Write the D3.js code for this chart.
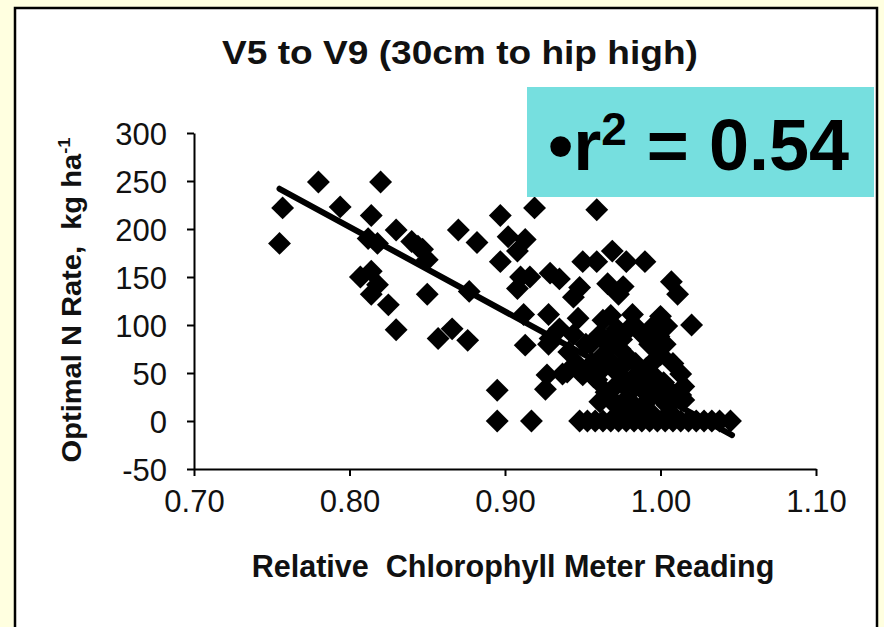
<!DOCTYPE html>
<html><head><meta charset="utf-8">
<script src="https://cdn.jsdelivr.net/npm/d3@7"></script>
<style>
html,body{margin:0;padding:0;background:#ffffe0;}
svg{display:block;}
text{font-family:"Liberation Sans",Arial,Helvetica,sans-serif;}
</style></head>
<body>
<svg id="chart" width="884" height="627"></svg>
<script>
// ---- data ----
const titleText = "V5 to V9 (30cm to hip high)";
const xLabel = "Relative  Chlorophyll Meter Reading";
const yLabelMain = "Optimal N Rate,  kg ha";
const yLabelSup = "-1";
const xTicks = [0.70, 0.80, 0.90, 1.00, 1.10];
const yTicks = [-50, 0, 50, 100, 150, 200, 250, 300];
const rsqValue = "0.54";

const rcmr = [
 0.780,0.820,0.757,0.794,0.814,0.755,0.812,0.818,0.830,0.840,0.847,0.850,0.844,0.870,0.882,0.897,0.919,0.902,0.913,0.908,0.897,
 0.807,0.814,0.818,0.814,0.825,0.850,0.877,0.830,0.857,0.866,0.876,0.912,0.910,0.916,0.929,0.908,0.928,0.929,0.913,0.895,0.927,0.926,0.895,0.917,
 0.959,0.969,0.950,0.959,0.978,0.990,0.935,1.007,1.011,0.948,0.944,0.966,0.976,0.973,0.968,0.982,1.000,1.004,1.020,0.972,0.986,0.935,0.947,0.944,
 0.955,0.974,0.989,1.000,0.993,1.013,0.980,0.940,0.950,0.959,0.969,0.982,0.993,1.007,1.013,0.978,0.991,1.004,0.972,
 0.928,0.941,0.952,0.966,0.975,0.962,0.937,0.957,0.973,0.984,0.984,0.969,0.982,
 0.993,1.015,1.015,0.989,1.006,
 0.956,0.963,0.968,0.976,0.986,0.991,0.997,1.002,0.965,0.976,0.990,0.998,0.961,0.986,0.996,0.979,0.961,0.967,0.979,0.996,1.003,1.008,0.999,0.946,0.963,
 0.948,0.953,0.958,0.963,0.968,0.973,0.978,0.983,0.988,0.993,0.998,1.003,1.008,1.013,1.018,1.023,1.028,1.033,1.038,1.045
];
const optN = [
 249,249,222,223,214,185,190,185,199,187,179,168,182,199,186,214,222,192,189,177,166,
 150,156,142,132,121,132,135,95,86,96,84,111,150,150,154,138,111,86,79,32,48,33,0,0,
 220,177,166,166,166,166,148,145,132,139,129,143,140,132,110,111,109,99,100,96,95,96,107,90,
 80,75,89,69,58,49,65,51,48,43,33,44,41,30,27,23,20,17,15,
 80,72,80,85,85,67,49,46,49,60,36,22,18,
 80,36,22,15,9,
 60,55,62,58,50,55,45,40,30,38,30,28,20,8,5,10,90,78,95,100,80,60,88,60,105,
 0,0,0,0,0,0,0,0,0,0,0,0,0,0,0,0,0,0,0,0
];
// linear fit (from chart): y = intercept + slope * x, drawn over the data range
const fitCoef = [907.6, -881.7];
const fitRange = [0.755, 1.046];

// ---- layout ----
const svg = d3.select("#chart");
svg.append("rect").attr("x",0).attr("y",0).attr("width",884).attr("height",627).attr("fill","#ffffe0");
svg.append("rect").attr("x",15).attr("y",8).attr("width",862).attr("height",640)
   .attr("fill","#ffffff").attr("stroke","#000").attr("stroke-width",2.5);

const x = d3.scaleLinear().domain([0.70,1.10]).range([194,816]);
const y = d3.scaleLinear().domain([-50,300]).range([469,133]);

// axes
const xAxis = d3.axisBottom(x).tickValues(xTicks).tickFormat(d=>d.toFixed(2)).tickSize(7).tickSizeOuter(0).tickPadding(14);
const yAxis = d3.axisLeft(y).tickValues(yTicks).tickFormat(d=>String(d)).tickSize(7).tickSizeOuter(0).tickPadding(20);

const gx = svg.append("g").attr("transform","translate(0,469)").call(xAxis);
const gy = svg.append("g").attr("transform","translate(194,0)").call(yAxis);
[gx,gy].forEach(g=>{
  g.select(".domain").attr("stroke","#000").attr("stroke-width",2);
  g.selectAll(".tick line").attr("stroke","#000").attr("stroke-width",2);
  g.selectAll(".tick text").attr("fill","#111").style("font-size","31px")
    .style("font-family","'Liberation Sans',Arial,sans-serif");
});
gy.selectAll(".tick text").attr("dy","0.36em");

// data points
const pts = rcmr.map((v,i)=>({x:v,y:optN[i]}));
const diamond = d3.symbol().type(d3.symbolSquare).size(262);
svg.append("g").selectAll("path").data(pts).join("path")
  .attr("d", diamond)
  .attr("transform", d=>`translate(${x(d.x)},${y(d.y)}) rotate(45)`)
  .attr("fill","#000");

// regression line
const fitPts = fitRange.map(v=>({x:v, y:fitCoef[0]+fitCoef[1]*v}));
svg.append("path").datum(fitPts)
  .attr("d", d3.line().x(d=>x(d.x)).y(d=>y(d.y)))
  .attr("stroke","#000").attr("stroke-width",6).attr("stroke-linecap","round").attr("fill","none");

function fit(sel, target){
  const w = sel.node().getBBox().width;
  return target / w;
}

// title
const title = svg.append("text").attr("text-anchor","middle")
  .style("font-size","34px").style("font-weight","bold").attr("fill","#111")
  .text(titleText);
let s = fit(title, 476);
title.attr("transform",`translate(460,64) scale(${s},1)`);

// x label
const xl = svg.append("text").attr("text-anchor","middle")
  .style("font-size","31px").style("font-weight","bold").attr("fill","#111")
  .style("white-space","pre").attr("xml:space","preserve")
  .text(xLabel);
s = fit(xl, 523);
xl.attr("transform",`translate(513,577) scale(${s},1)`);

// y label
const yl = svg.append("text").attr("text-anchor","middle")
  .style("font-size","27px").style("font-weight","bold").attr("fill","#111")
  .style("white-space","pre").attr("xml:space","preserve");
yl.append("tspan").text(yLabelMain);
yl.append("tspan").attr("dy",-11).style("font-size","17px").text(yLabelSup);
s = fit(yl, 325);
yl.attr("transform",`translate(81,300) rotate(-90) scale(${s},1)`);

// r-squared box
svg.append("rect").attr("x",527).attr("y",87).attr("width",347).attr("height",110).attr("fill","#76dfdf");
const rt = svg.append("text").attr("x",548).attr("y",170)
  .style("font-size","72px").style("font-weight","bold").attr("fill","#000")
  .style("white-space","pre").attr("xml:space","preserve");
rt.append("tspan").text("\u2022r");
rt.append("tspan").attr("dy",-25).style("font-size","46px").text("2");
rt.append("tspan").attr("dy",25).text(" = " + rsqValue);
</script>
</body></html>
